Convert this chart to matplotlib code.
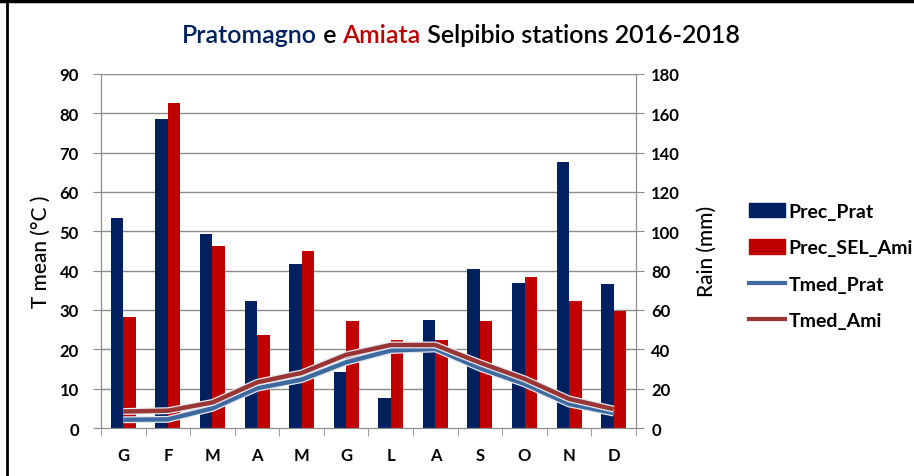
import numpy as np
import matplotlib
matplotlib.use('Agg')
import matplotlib.pyplot as plt
import matplotlib.patheffects as pe
from matplotlib.lines import Line2D
from matplotlib.patches import Patch

plt.rcParams['font.family'] = ['Lato', 'DejaVu Sans']

# dati
mesi = ['G', 'F', 'M', 'A', 'M', 'G', 'L', 'A', 'S', 'O', 'N', 'D']
prec_prat = [106.5, 157, 98.8, 64.7, 83.4, 28.7, 15.4, 54.9, 81, 73.7, 135.2, 73]
prec_ami = [56.4, 165.4, 92.4, 47.4, 90, 54.4, 44.5, 44.5, 54.4, 76.6, 64.7, 59.3]
tmed_prat = [2.1, 2.2, 5.0, 10.1, 12.3, 16.7, 19.7, 20.1, 15.2, 11.2, 6.1, 3.8]
tmed_ami = [4.2, 4.4, 6.5, 11.6, 14.0, 18.6, 21.1, 21.1, 16.6, 12.5, 7.4, 4.8]

c_prat = '#002060'
c_ami = '#C00000'
c_tprat = '#3F6AA0'
c_tami = '#9A3535'
grigio = '#8c8c8c'

fig = plt.figure(figsize=(9.14, 4.77), dpi=100)
ax = fig.add_axes([0.1105, 0.1006, 0.5853, 0.7425])
ax2 = ax.twinx()

x = np.arange(len(mesi))
w = 0.28
# barre sull'asse destro (pioggia)
ax2.bar(x - w / 2, prec_prat, width=w, color=c_prat, zorder=2)
ax2.bar(x + w / 2, prec_ami, width=w, color=c_ami, zorder=2)
# linee temperatura sull'asse sinistro, disegnate sopra
ax.set_zorder(ax2.get_zorder() + 1)
ax.patch.set_visible(False)
halo = [pe.Stroke(linewidth=5, foreground='#e4e9f0'), pe.Normal()]
ax.plot(x, tmed_prat, color=c_tprat, lw=3.2, path_effects=halo, solid_capstyle='butt')
ax.plot(x, tmed_ami, color=c_tami, lw=3.2, path_effects=halo, solid_capstyle='butt')

ax.set_xlim(-0.5, 11.5)
ax.set_ylim(0, 90)
ax2.set_ylim(0, 180)
ax.set_yticks(range(0, 91, 10))
ax2.set_yticks(range(0, 181, 20))
ax.set_xticks(x)
ax.set_xticklabels(mesi)
ax.set_xticks(np.arange(-0.5, 12, 1), minor=True)
ax.tick_params(axis='x', which='major', length=0, pad=14)
ax.tick_params(axis='x', which='minor', length=6, color=grigio, direction='out')

# griglia orizzontale sotto le barre
for v in range(10, 91, 10):
    ax2.axhline(v * 2, color=grigio, lw=1, zorder=1)

for a in (ax, ax2):
    a.spines['top'].set_visible(False)
    for s in ('left', 'right', 'bottom'):
        a.spines[s].set_color(grigio)
    a.tick_params(axis='y', length=6, color=grigio, labelsize=12)
    for lab in a.get_yticklabels():
        lab.set_fontweight('bold')
for lab in ax.get_xticklabels():
    lab.set_fontweight('bold')
    lab.set_fontsize(12)
ax.tick_params(axis='y', pad=10)
ax2.tick_params(axis='y', pad=5)

ax.set_ylabel('T mean (°C )', fontsize=15, labelpad=6, fontweight='medium')
ax2.set_ylabel('Rain (mm)', fontsize=15, labelpad=12, fontweight='medium')

# legenda
handles = [
    Patch(color=c_prat, label='Prec_Prat'),
    Patch(color=c_ami, label='Prec_SEL_Ami'),
    Line2D([], [], color=c_tprat, lw=3, label='Tmed_Prat'),
    Line2D([], [], color=c_tami, lw=3, label='Tmed_Ami'),
]
fig.legend(handles=handles, loc='center left', bbox_to_anchor=(0.8, 0.44),
           frameon=False, prop={'size': 14, 'weight': 'bold'},
           handlelength=1.85, handleheight=0.75, labelspacing=1.0, handletextpad=0.2)

# titolo a colori
parti = [('Pratomagno', c_prat), (' e ', 'black'), ('Amiata', c_ami),
         (' Selpibio stations 2016-2018', 'black')]
renderer = fig.canvas.get_renderer()
testi = []
xpos = 0
for t, c in parti:
    tt = fig.text(xpos, 0.925, t, color=c, fontsize=18, fontweight='semibold', va='center', ha='left')
    fig.canvas.draw()
    bb = tt.get_window_extent(renderer)
    testi.append((tt, bb.width / fig.bbox.width))
    xpos += bb.width / fig.bbox.width
tot = sum(wd for _, wd in testi)
start = 0.504 - tot / 2
for tt, wd in testi:
    tt.set_x(start)
    start += wd

# bordo della figura
fig.add_artist(Line2D([7 / 914, 7 / 914], [0, 1], color='black', lw=2, transform=fig.transFigure))
fig.add_artist(Line2D([0, 1], [1 - 1.5 / 477, 1 - 1.5 / 477], color='black', lw=2.5, transform=fig.transFigure))

fig.savefig('out.png', dpi=100)
